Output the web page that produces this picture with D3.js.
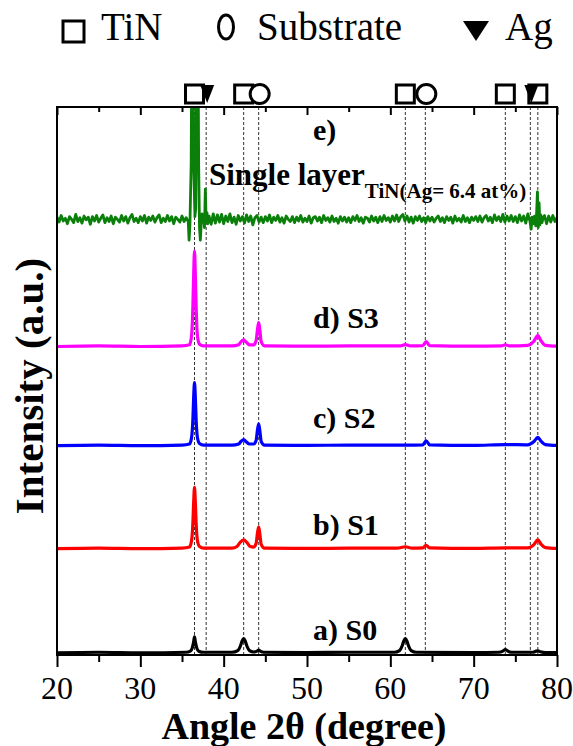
<!DOCTYPE html>
<html><head><meta charset="utf-8">
<script src="https://cdn.jsdelivr.net/npm/d3@7"></script>
</head><body style="margin:0">
<svg id="c" width="573" height="746" font-family="Liberation Serif"></svg>
<script>
// ---------- data ----------
const xTicks = [20, 30, 40, 50, 60, 70, 80];
const xMinorTicks = [25, 35, 45, 55, 65, 75];
const seriesLabels = ["a) S0", "b) S1", "c) S2", "d) S3", "e)"];
const seriesColors = ["#000000", "#ff0000", "#0000ff", "#ff00ff", "#0a800a"];
const seriesOffsets = [0.4, 19.4, 38.2, 56.3, 79.5];
const refLines = [36.5, 37.9, 42.4, 44.2, 61.8, 64.2, 73.8, 76.8, 77.7];
const tinPeaks = [36.5, 42.4, 61.8, 73.8, 77.7];
const substratePeaks = [44.2, 64.2];
const agPeaks = [37.9, 76.8];

const s0 = [[20,0],[25,0.1],[30,0],[35.5,0.1],[36.0,0.3],[36.25,1.0],[36.4,2.0],[36.5,2.9],[36.6,2.0],[36.75,1.0],[37.0,0.3],[37.6,0.1],[41.0,0.1],[41.7,0.4],[42.0,1.2],[42.2,2.1],[42.4,2.6],[42.6,2.1],[42.8,1.2],[43.1,0.4],[43.6,0.15],[44.0,0.3],[44.2,0.5],[44.4,0.3],[44.8,0.1],[50,0.05],[55,0.1],[60.5,0.1],[61.1,0.4],[61.4,1.2],[61.6,2.1],[61.8,2.6],[62.0,2.1],[62.2,1.2],[62.5,0.4],[63.1,0.1],[70,0.05],[73.0,0.1],[73.5,0.3],[73.8,0.6],[74.1,0.3],[74.6,0.1],[77.1,0.1],[77.5,0.3],[77.7,0.35],[78.0,0.2],[78.6,0.05],[80,0.05]];
const s1 = [[20,0],[25,0.1],[30,0],[35,0.1],[35.9,0.3],[36.15,1.5],[36.3,4.5],[36.4,8.5],[36.5,11.2],[36.6,8.5],[36.7,4.5],[36.85,1.5],[37.1,0.4],[37.6,0.1],[41.0,0.1],[41.6,0.4],[42.0,1.2],[42.4,1.6],[42.8,1.1],[43.2,0.4],[43.6,0.3],[43.9,1.0],[44.05,2.8],[44.2,4.0],[44.35,2.6],[44.5,0.8],[44.9,0.1],[50,0.05],[55,0.1],[60.8,0.1],[61.8,0.35],[62.6,0.1],[63.9,0.15],[64.3,0.6],[64.7,0.15],[70,0.05],[73.8,0.15],[76.5,0.15],[77.2,0.7],[77.7,1.6],[78.1,0.8],[78.6,0.2],[80,0.05]];
const s2 = [[20,0],[25,0.1],[30,0],[35,0.1],[35.9,0.3],[36.15,1.5],[36.3,4.6],[36.4,8.8],[36.5,11.5],[36.6,8.8],[36.7,4.6],[36.85,1.5],[37.1,0.4],[37.6,0.1],[41.0,0.1],[41.8,0.3],[42.1,0.8],[42.4,1.1],[42.7,0.7],[43.1,0.3],[43.6,0.3],[43.9,1.0],[44.05,2.8],[44.2,4.0],[44.35,2.6],[44.5,0.8],[44.9,0.1],[50,0.05],[55,0.1],[61.8,0.1],[63.9,0.15],[64.3,0.9],[64.7,0.15],[70,0.05],[73.8,0.2],[76.5,0.15],[77.2,0.7],[77.7,1.5],[78.1,0.8],[78.6,0.2],[80,0.05]];
const s3 = [[20,0],[25,0.1],[30,0],[35,0.1],[35.9,0.3],[36.15,2.0],[36.3,7.0],[36.4,13.0],[36.5,17.4],[36.6,13.0],[36.7,7.0],[36.85,2.0],[37.1,0.4],[37.6,0.1],[41.0,0.1],[41.8,0.3],[42.1,0.9],[42.4,1.2],[42.7,0.8],[43.1,0.3],[43.6,0.3],[43.9,1.1],[44.05,3.0],[44.2,4.4],[44.35,2.9],[44.5,0.9],[44.9,0.1],[50,0.05],[55,0.1],[61.2,0.1],[61.8,0.35],[62.4,0.1],[63.9,0.15],[64.3,0.9],[64.7,0.15],[70,0.05],[73.3,0.1],[73.8,0.3],[74.3,0.1],[76.5,0.2],[77.2,0.9],[77.7,2.0],[78.1,1.0],[78.6,0.2],[80,0.05]];

// green trace: background noise every 0.25 deg from 20 to 80, plus the peak regions
const eNoiseStart = 20, eNoiseStep = 0.25;
const eNoise = [
 0.4,-0.5,0.7,-0.3,0.2,-0.8,0.5,0.0,-0.6,0.9,-0.4,0.3,-0.7,0.6,-0.1,0.4,-0.9,0.5,-0.3,0.7,
 -0.5,0.2,0.8,-0.6,0.3,-0.4,0.6,-0.8,0.4,0.0,-0.5,0.7,-0.3,0.5,-0.7,0.3,0.9,-0.4,0.2,-0.6,
 0.5,-0.3,0.7,-0.7,0.4,-0.2,0.6,-0.5,0.3,0.8,-0.6,0.2,-0.4,0.7,-0.3,0.5,-0.8,0.4,0.0,-0.5,
 0.6,-0.4,0.3,-0.7,0,0,0,0,0,0,0,0,0,0,-0.9,1.0,-0.7,0.8,-0.5,0.9,
 -0.8,0.6,-0.4,1.0,-0.6,0.4,-0.9,0.7,-0.3,0.5,-0.7,0.8,-0.4,0.6,-1.0,0.3,0.7,-0.5,0.4,-0.6,
 0.5,-0.3,0.8,-0.6,0.4,-0.2,0.7,-0.5,0.3,-0.7,0.6,0.0,-0.4,0.5,-0.6,0.4,-0.3,0.7,-0.5,0.2,
 -0.4,0.6,-0.7,0.3,0.5,-0.3,0.4,-0.6,0.7,-0.2,0.3,-0.5,0.6,-0.4,0.2,-0.7,0.5,-0.3,0.4,-0.5,
 0.3,-0.6,0.5,-0.2,0.7,-0.4,0.3,-0.7,0.4,0.2,-0.5,0.6,-0.3,0.4,-0.6,0.5,-0.4,0.7,-0.2,0.3,
 -0.5,0.6,-0.3,0.8,-0.4,0.5,0.9,-0.3,0.6,-0.5,0.4,-0.7,0.5,-0.2,0.6,-0.4,0.3,-0.6,0.5,-0.3,
 0.4,-0.5,0.2,0.6,-0.4,0.3,-0.6,0.5,-0.2,0.4,-0.7,0.6,-0.3,0.2,-0.5,0.7,-0.4,0.3,-0.6,0.4,
 -0.2,0.5,-0.4,0.6,-0.5,0.3,0.7,-0.3,0.4,-0.6,0.8,-0.2,0.5,-0.4,0.9,-0.5,0.6,-0.3,0.7,-0.4,
 0.5,-0.6,0.8,-0.3,0.6,-0.7,1.0,-0.4,0,0,0,0,0,0,0.7,-0.8,0.6,-0.5,0.7,-0.4,
 0.3];
const ePeakA = [[35.75,-0.4],[35.85,-3.8],[35.95,-1.0],[36.1,10],[36.2,40],[36.3,40],[36.4,10],[36.55,0.5],[36.65,2],[36.8,40],[36.9,40],[37.0,10],[37.1,-1.5],[37.2,-3.8],[37.3,-1.0],[37.4,1.0],[37.5,-0.5],[37.6,0.8],[37.7,-1.5],[37.8,5.5],[37.9,-0.5],[38.0,1.2],[38.1,-0.8],[38.25,0.6],[38.4,-0.3]];
const ePeakB = [[76.75,-0.3],[76.9,-1.8],[77.0,0.4],[77.15,-0.8],[77.3,0.6],[77.45,-1.2],[77.55,1.0],[77.65,5.0],[77.75,-1.5],[77.85,3.0],[77.95,-1.0],[78.05,0.8],[78.2,-0.6],[78.35,0.4]];

// ---------- layout ----------
const svg = d3.select("#c");
const L = 57, R = 557, T = 107, B = 655;
const x = d3.scaleLinear().domain([20, 80]).range([L, R]);
const y = d3.scaleLinear().domain([0, 100]).range([B, T]);
const FONT = "Liberation Serif";

svg.append("defs").append("clipPath").attr("id","plotclip")
  .append("rect").attr("x",L).attr("y",T).attr("width",R-L).attr("height",B-T);

// dashed reference lines
svg.append("g").selectAll("line").data(refLines).join("line")
  .attr("x1", d=>x(d)).attr("x2", d=>x(d)).attr("y1", T).attr("y2", B)
  .attr("stroke","#333").attr("stroke-width",1).attr("stroke-dasharray","3,2");

// build green series
const inWin = a => (a >= 35.7 && a <= 38.45) || (a >= 76.7 && a <= 78.4);
const eNoisePts = eNoise.map((v,i)=>[eNoiseStart + i*eNoiseStep, v]).filter(p=>!inWin(p[0]));
const sE = eNoisePts.concat(ePeakA, ePeakB).sort((a,b)=>a[0]-b[0]);

const allSeries = [s0, s1, s2, s3, sE];
const g = svg.append("g").attr("clip-path","url(#plotclip)");
allSeries.forEach((s, i) => {
  const off = seriesOffsets[i];
  const line = d3.line().x(d=>x(d[0])).y(d=>y(d[1]+off))
    .curve(i === 4 ? d3.curveLinear : d3.curveMonotoneX);
  g.append("path").datum(s).attr("d", line).attr("fill","none")
    .attr("stroke", seriesColors[i]).attr("stroke-width", i===4 ? 2.8 : 3.2)
    .attr("stroke-linejoin","round");
});

// frame
svg.append("rect").attr("x",L).attr("y",T).attr("width",R-L).attr("height",B-T)
  .attr("fill","none").attr("stroke","#000").attr("stroke-width",2);

// bottom axis (tick marks from d3 axis, labels as plain texts)
const bx = svg.append("g").attr("transform",`translate(0,${B})`)
  .call(d3.axisBottom(x).tickValues(xTicks).tickSize(12).tickFormat(""));
bx.select(".domain").remove();
bx.selectAll(".tick line").attr("stroke-width",2);
const bxm = svg.append("g").attr("transform",`translate(0,${B})`)
  .call(d3.axisBottom(x).tickValues(xMinorTicks).tickSize(7).tickFormat(""));
bxm.select(".domain").remove();
bxm.selectAll(".tick line").attr("stroke-width",2);

// top axis (inner ticks)
const tx = svg.append("g").attr("transform",`translate(0,${T})`)
  .call(d3.axisTop(x).tickValues(xTicks).tickSize(-8).tickFormat(""));
tx.select(".domain").remove();
tx.selectAll(".tick line").attr("stroke-width",2);
const txm = svg.append("g").attr("transform",`translate(0,${T})`)
  .call(d3.axisTop(x).tickValues(xMinorTicks).tickSize(-5).tickFormat(""));
txm.select(".domain").remove();
txm.selectAll(".tick line").attr("stroke-width",2);

// phase markers above frame
const my = 94;
svg.append("g").selectAll("rect").data(tinPeaks).join("rect")
  .attr("x", d=>x(d)-9).attr("y", my-9).attr("width",18).attr("height",18)
  .attr("fill","#fff").attr("stroke","#000").attr("stroke-width",3);
svg.append("g").selectAll("circle").data(substratePeaks).join("circle")
  .attr("cx", d=>x(d)+1).attr("cy", my).attr("r",9.5)
  .attr("fill","#fff").attr("stroke","#000").attr("stroke-width",3);
svg.append("g").selectAll("path").data(agPeaks).join("path")
  .attr("d", d=>{const cx=x(d)+1; return `M${cx-7},${my-9}L${cx+7},${my-9}L${cx},${my+9}Z`;})
  .attr("fill","#000");

function txt(xx, yy, size, bold, s) {
  const t = svg.append("text").attr("x", xx).attr("y", yy)
    .style("font-family", `'${FONT}'`).attr("font-size", size).text(s);
  if (bold) t.style("font-weight", "bold");
  return t;
}

// tick labels
xTicks.forEach(v => txt(x(v), 699, 32, false, String(v)).attr("text-anchor","middle"));

// legend at top
svg.append("rect").attr("x",63).attr("y",21).attr("width",21).attr("height",21)
  .attr("fill","none").attr("stroke","#000").attr("stroke-width",3);
txt(101, 40, 39, false, "TiN");
svg.append("ellipse").attr("cx",226).attr("cy",27).attr("rx",7.5).attr("ry",12)
  .attr("fill","none").attr("stroke","#000").attr("stroke-width",3);
txt(257, 40, 39, false, "Substrate");
svg.append("path").attr("d","M463,21L489,21L476,41Z").attr("fill","#000");
txt(505, 40, 39, false, "Ag");

// series labels
const labelY = [640, 535, 428, 328, 140];
seriesLabels.forEach((t,i)=>{ txt(313, labelY[i], 30, true, t); });
const sl = txt(209, 185, 31, true, "");
sl.append("tspan").text("Single layer");
sl.append("tspan").attr("dy",13).attr("font-size",21).text("TiN(Ag= 6.4 at%)");

// axis titles
txt(304, 739, 38, true, "Angle 2θ (degree)").attr("text-anchor","middle");
txt(0, 0, 41, true, "Intensity (a.u.)").attr("x", null).attr("y", null)
  .attr("transform","translate(43,386) rotate(-90)").attr("text-anchor","middle");
</script>
</body></html>
